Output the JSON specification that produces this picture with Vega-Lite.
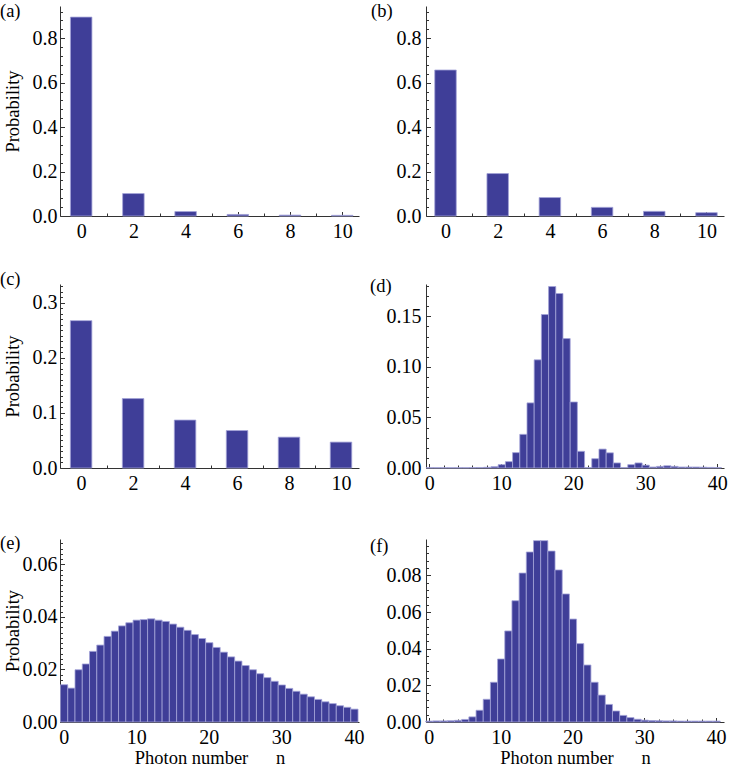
{
 "$schema": "https://vega.github.io/schema/vega-lite/v6.json",
 "padding": {"left": 0, "top": 1, "right": 0, "bottom": 0},
 "columns": 2,
 "align": "each",
 "spacing": {"row": 26, "column": 6},
 "concat": [
  {
   "width": 299, "height": 210,
   "title": {"text": "(a)", "dx": -3},
   "data": {"values": [{"n":0,"p":0.895},{"n":2,"p":0.101},{"n":4,"p":0.02},{"n":6,"p":0.007},{"n":8,"p":0.004},{"n":10,"p":0.003}]},
   "mark": {"type": "bar", "width": 21.5, "fill": "#3f3e98", "stroke": "#a3a3d8", "strokeWidth": 0.8},
   "encoding": {
    "x": {"field": "n", "type": "quantitative", "scale": {"domain": [-0.62, 10.45], "nice": false, "zero": false},
     "axis": {"title": null, "values": [0,1,2,3,4,5,6,7,8,9,10], "labelExpr": "datum.value % 2 === 0 ? format(datum.value, 'd') : ''", "tickSize": {"condition": {"test": "datum.value % 2 === 0", "value": -4.5}, "value": -3}, "labelPadding": 9.5, "minExtent": 26, "maxExtent": 26}},
    "y": {"field": "p", "type": "quantitative", "scale": {"domain": [0, 0.945], "nice": false},
     "axis": {"title": "Probability", "values": [0,0.04,0.08,0.12,0.16,0.2,0.24,0.28,0.32,0.36,0.4,0.44,0.48,0.52,0.56,0.6,0.64,0.68,0.72,0.76,0.8,0.84,0.88,0.92], "labelExpr": "abs(datum.value*5 - round(datum.value*5)) < 1e-6 ? format(datum.value, '.1f') : ''", "tickSize": {"condition": {"test": "abs(datum.value*5 - round(datum.value*5)) < 1e-6", "value": -4.5}, "value": -2.5}, "labelPadding": 7.5, "minExtent": 36, "maxExtent": 36, "titlePadding": 2}}
   }
  },
  {
   "width": 298, "height": 210,
   "title": {"text": "(b)", "dx": -16},
   "data": {"values": [{"n":0,"p":0.657},{"n":2,"p":0.191},{"n":4,"p":0.083},{"n":6,"p":0.039},{"n":8,"p":0.021},{"n":10,"p":0.015}]},
   "mark": {"type": "bar", "width": 21.5, "fill": "#3f3e98", "stroke": "#a3a3d8", "strokeWidth": 0.8},
   "encoding": {
    "x": {"field": "n", "type": "quantitative", "scale": {"domain": [-0.556, 10.48], "nice": false, "zero": false},
     "axis": {"title": null, "values": [0,1,2,3,4,5,6,7,8,9,10], "labelExpr": "datum.value % 2 === 0 ? format(datum.value, 'd') : ''", "tickSize": {"condition": {"test": "datum.value % 2 === 0", "value": -4.5}, "value": -3}, "labelPadding": 9.5, "minExtent": 26, "maxExtent": 26}},
    "y": {"field": "p", "type": "quantitative", "scale": {"domain": [0, 0.945], "nice": false},
     "axis": {"title": null, "values": [0,0.04,0.08,0.12,0.16,0.2,0.24,0.28,0.32,0.36,0.4,0.44,0.48,0.52,0.56,0.6,0.64,0.68,0.72,0.76,0.8,0.84,0.88,0.92], "labelExpr": "abs(datum.value*5 - round(datum.value*5)) < 1e-6 ? format(datum.value, '.1f') : ''", "tickSize": {"condition": {"test": "abs(datum.value*5 - round(datum.value*5)) < 1e-6", "value": -4.5}, "value": -2.5}, "labelPadding": 9.5, "minExtent": 39, "maxExtent": 39}}
   }
  },
  {
   "width": 299, "height": 184,
   "title": {"text": "(c)", "dx": -3, "dy": -7},
   "data": {"values": [{"n":0,"p":0.2675},{"n":2,"p":0.126},{"n":4,"p":0.087},{"n":6,"p":0.068},{"n":8,"p":0.056},{"n":10,"p":0.047}]},
   "mark": {"type": "bar", "width": 21.5, "fill": "#3f3e98", "stroke": "#a3a3d8", "strokeWidth": 0.8},
   "encoding": {
    "x": {"field": "n", "type": "quantitative", "scale": {"domain": [-0.62, 10.5], "nice": false, "zero": false},
     "axis": {"title": null, "values": [0,1,2,3,4,5,6,7,8,9,10], "labelExpr": "datum.value % 2 === 0 ? format(datum.value, 'd') : ''", "tickSize": {"condition": {"test": "datum.value % 2 === 0", "value": -4.5}, "value": -3}, "labelPadding": 9.5, "minExtent": 39, "maxExtent": 39}},
    "y": {"field": "p", "type": "quantitative", "scale": {"domain": [0, 0.334], "nice": false},
     "axis": {"title": "Probability", "values": [0,0.01,0.02,0.03,0.04,0.05,0.06,0.07,0.08,0.09,0.1,0.11,0.12,0.13,0.14,0.15,0.16,0.17,0.18,0.19,0.2,0.21,0.22,0.23,0.24,0.25,0.26,0.27,0.28,0.29,0.3,0.31,0.32,0.33], "labelExpr": "abs(datum.value*10 - round(datum.value*10)) < 1e-6 ? format(datum.value, '.1f') : ''", "tickSize": {"condition": {"test": "abs(datum.value*10 - round(datum.value*10)) < 1e-6", "value": -4.5}, "value": -2.5}, "labelPadding": 7.5, "minExtent": 36, "maxExtent": 36, "titlePadding": 2}}
   }
  },
  {
   "width": 298, "height": 184,
   "title": {"text": "(d)", "dx": -16},
   "data": {"values": [{"n":0,"p":0.0003},{"n":1,"p":0.0003},{"n":2,"p":0.0003},{"n":3,"p":0.0003},{"n":4,"p":0.0003},{"n":5,"p":0.0003},{"n":6,"p":0.0004},{"n":7,"p":0.0005},{"n":8,"p":0.0007},{"n":9,"p":0.0013},{"n":10,"p":0.0033},{"n":11,"p":0.0063},{"n":12,"p":0.0152},{"n":13,"p":0.0333},{"n":14,"p":0.0644},{"n":15,"p":0.107},{"n":16,"p":0.1518},{"n":17,"p":0.1795},{"n":18,"p":0.1726},{"n":19,"p":0.128},{"n":20,"p":0.0653},{"n":21,"p":0.0165},{"n":22,"p":0.0004},{"n":23,"p":0.0092},{"n":24,"p":0.0187},{"n":25,"p":0.015},{"n":26,"p":0.005},{"n":27,"p":0.0005},{"n":28,"p":0.0033},{"n":29,"p":0.005},{"n":30,"p":0.0028},{"n":31,"p":0.001},{"n":32,"p":0.0016},{"n":33,"p":0.0022},{"n":34,"p":0.0016},{"n":35,"p":0.001},{"n":36,"p":0.001},{"n":37,"p":0.001},{"n":38,"p":0.0008},{"n":39,"p":0.0006},{"n":40,"p":0.0005}]},
   "mark": {"type": "bar", "binSpacing": 0, "fill": "#3f3e98", "stroke": "#a3a3d8", "strokeWidth": 0.8},
   "encoding": {
    "x": {"field": "n", "type": "quantitative", "bin": {"step": 1, "anchor": -0.5, "nice": false, "extent": [-0.5, 40.5]}, "scale": {"domain": [-0.46, 40.94], "nice": false, "zero": false},
     "axis": {"title": null, "values": [0,2,4,6,8,10,12,14,16,18,20,22,24,26,28,30,32,34,36,38,40], "labelExpr": "datum.value % 10 === 0 ? format(datum.value, 'd') : ''", "tickSize": {"condition": {"test": "datum.value % 10 === 0", "value": -4.5}, "value": -3}, "labelPadding": 9.5, "minExtent": 39, "maxExtent": 39}},
    "y": {"field": "p", "type": "quantitative", "scale": {"domain": [0, 0.182], "nice": false},
     "axis": {"title": null, "values": [0,0.01,0.02,0.03,0.04,0.05,0.06,0.07,0.08,0.09,0.1,0.11,0.12,0.13,0.14,0.15,0.16,0.17,0.18], "labelExpr": "abs(datum.value*20 - round(datum.value*20)) < 1e-6 ? format(datum.value, '.2f') : ''", "tickSize": {"condition": {"test": "abs(datum.value*20 - round(datum.value*20)) < 1e-6", "value": -4.5}, "value": -2.5}, "labelPadding": 9.5, "minExtent": 39, "maxExtent": 39}}
   }
  },
  {
   "width": 299, "height": 183,
   "title": {"text": "(e)", "dx": -3},
   "data": {"values": [{"n":0,"p":0.0142},{"n":1,"p":0.0129},{"n":2,"p":0.0199},{"n":3,"p":0.0221},{"n":4,"p":0.0269},{"n":5,"p":0.0293},{"n":6,"p":0.0326},{"n":7,"p":0.0346},{"n":8,"p":0.0366},{"n":9,"p":0.0378},{"n":10,"p":0.0388},{"n":11,"p":0.039},{"n":12,"p":0.0393},{"n":13,"p":0.0388},{"n":14,"p":0.0383},{"n":15,"p":0.0373},{"n":16,"p":0.0361},{"n":17,"p":0.0349},{"n":18,"p":0.0333},{"n":19,"p":0.0318},{"n":20,"p":0.0302},{"n":21,"p":0.0284},{"n":22,"p":0.0266},{"n":23,"p":0.0248},{"n":24,"p":0.0232},{"n":25,"p":0.0215},{"n":26,"p":0.0199},{"n":27,"p":0.0184},{"n":28,"p":0.0169},{"n":29,"p":0.0155},{"n":30,"p":0.0141},{"n":31,"p":0.0128},{"n":32,"p":0.0117},{"n":33,"p":0.0106},{"n":34,"p":0.0096},{"n":35,"p":0.0086},{"n":36,"p":0.0077},{"n":37,"p":0.007},{"n":38,"p":0.0062},{"n":39,"p":0.0056},{"n":40,"p":0.0049}]},
   "mark": {"type": "bar", "binSpacing": 0, "fill": "#3f3e98", "stroke": "#a3a3d8", "strokeWidth": 0.8},
   "encoding": {
    "x": {"field": "n", "type": "quantitative", "bin": {"step": 1, "anchor": -0.5, "nice": false, "extent": [-0.5, 40.5]}, "scale": {"domain": [-0.5, 40.7], "nice": false, "zero": false},
     "axis": {"title": "Photon number\u00a0\u00a0\u00a0\u00a0\u00a0\u00a0n", "titlePadding": 0, "values": [0,2,4,6,8,10,12,14,16,18,20,22,24,26,28,30,32,34,36,38,40], "labelExpr": "datum.value % 10 === 0 ? format(datum.value, 'd') : ''", "tickSize": {"condition": {"test": "datum.value % 10 === 0", "value": -4.5}, "value": -3}, "labelPadding": 9.5}},
    "y": {"field": "p", "type": "quantitative", "scale": {"domain": [0, 0.0697], "nice": false},
     "axis": {"title": "Probability", "values": [0,0.002,0.004,0.006,0.008,0.01,0.012,0.014,0.016,0.018,0.02,0.022,0.024,0.026,0.028,0.03,0.032,0.034,0.036,0.038,0.04,0.042,0.044,0.046,0.048,0.05,0.052,0.054,0.056,0.058,0.06,0.062,0.064,0.066,0.068], "labelExpr": "abs(datum.value*50 - round(datum.value*50)) < 1e-6 ? format(datum.value, '.2f') : ''", "tickSize": {"condition": {"test": "abs(datum.value*50 - round(datum.value*50)) < 1e-6", "value": -4.5}, "value": -2.5}, "labelPadding": 7.5, "minExtent": 36, "maxExtent": 36, "titlePadding": 2}}
   }
  },
  {
   "width": 298, "height": 183,
   "title": {"text": "(f)", "dx": -16},
   "data": {"values": [{"n":0,"p":0.0005},{"n":1,"p":0.0006},{"n":2,"p":0.0006},{"n":3,"p":0.0007},{"n":4,"p":0.0009},{"n":5,"p":0.0014},{"n":6,"p":0.0028},{"n":7,"p":0.0064},{"n":8,"p":0.0124},{"n":9,"p":0.0217},{"n":10,"p":0.0344},{"n":11,"p":0.0497},{"n":12,"p":0.0662},{"n":13,"p":0.0813},{"n":14,"p":0.0928},{"n":15,"p":0.099},{"n":16,"p":0.099},{"n":17,"p":0.0933},{"n":18,"p":0.083},{"n":19,"p":0.0699},{"n":20,"p":0.0562},{"n":21,"p":0.0428},{"n":22,"p":0.0311},{"n":23,"p":0.0217},{"n":24,"p":0.0147},{"n":25,"p":0.0096},{"n":26,"p":0.006},{"n":27,"p":0.0036},{"n":28,"p":0.0024},{"n":29,"p":0.0015},{"n":30,"p":0.001},{"n":31,"p":0.0008},{"n":32,"p":0.0007},{"n":33,"p":0.0006},{"n":34,"p":0.0006},{"n":35,"p":0.0005},{"n":36,"p":0.0005},{"n":37,"p":0.0005},{"n":38,"p":0.0005},{"n":39,"p":0.0005},{"n":40,"p":0.0005}]},
   "mark": {"type": "bar", "binSpacing": 0, "fill": "#3f3e98", "stroke": "#a3a3d8", "strokeWidth": 0.8},
   "encoding": {
    "x": {"field": "n", "type": "quantitative", "bin": {"step": 1, "anchor": -0.5, "nice": false, "extent": [-0.5, 40.5]}, "scale": {"domain": [-0.4, 41.1], "nice": false, "zero": false},
     "axis": {"title": "Photon number\u00a0\u00a0\u00a0\u00a0\u00a0\u00a0n", "titlePadding": 0, "values": [0,2,4,6,8,10,12,14,16,18,20,22,24,26,28,30,32,34,36,38,40], "labelExpr": "datum.value % 10 === 0 ? format(datum.value, 'd') : ''", "tickSize": {"condition": {"test": "datum.value % 10 === 0", "value": -4.5}, "value": -3}, "labelPadding": 9.5}},
    "y": {"field": "p", "type": "quantitative", "scale": {"domain": [0, 0.0999], "nice": false},
     "axis": {"title": null, "values": [0,0.004,0.008,0.012,0.016,0.02,0.024,0.028,0.032,0.036,0.04,0.044,0.048,0.052,0.056,0.06,0.064,0.068,0.072,0.076,0.08,0.084,0.088,0.092,0.096], "labelExpr": "abs(datum.value*50 - round(datum.value*50)) < 1e-6 ? format(datum.value, '.2f') : ''", "tickSize": {"condition": {"test": "abs(datum.value*50 - round(datum.value*50)) < 1e-6", "value": -4.5}, "value": -2.5}, "labelPadding": 9.5, "minExtent": 39, "maxExtent": 39}}
   }
  }
 ],
 "config": {
  "view": {"stroke": null},
  "font": "Liberation Serif, Times New Roman, serif",
  "axis": {"labelFont": "Liberation Serif, Times New Roman, serif", "labelFontSize": 20, "labelColor": "#000", "titleFont": "Liberation Serif, Times New Roman, serif", "titleFontSize": 18.5, "titleFontWeight": "normal", "titleColor": "#000", "domainColor": "#333", "domainWidth": 1, "tickColor": "#333", "tickWidth": 1, "grid": false, "labelFlush": false, "labelOverlap": false},
  "title": {"font": "Liberation Serif, Times New Roman, serif", "fontSize": 18.5, "fontWeight": "normal", "color": "#000", "anchor": "start", "frame": "bounds", "baseline": "top", "offset": -19}
 }
}
